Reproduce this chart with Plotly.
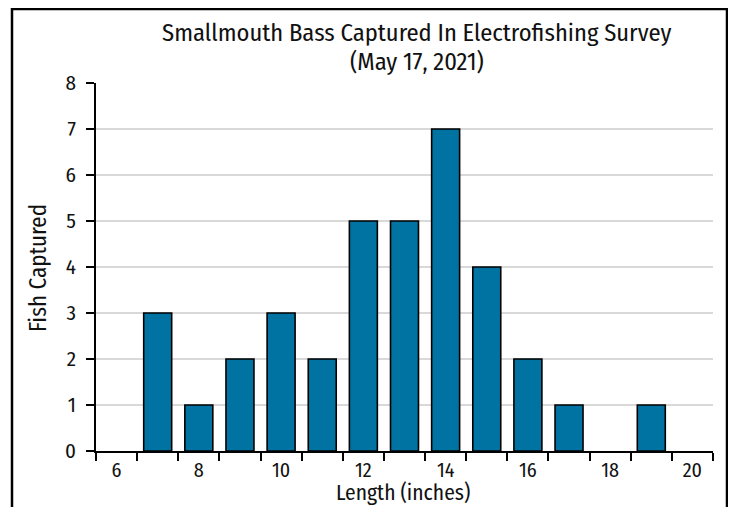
import plotly.graph_objects as go

lengths = [6, 7, 8, 9, 10, 11, 12, 13, 14, 15, 16, 17, 18, 19, 20]
counts = [0, 3, 1, 2, 3, 2, 5, 5, 7, 4, 2, 1, 0, 1, 0]
x_tick_labels = [6, 8, 10, 12, 14, 16, 18, 20]
y_ticks = [0, 1, 2, 3, 4, 5, 6, 7, 8]
title_lines = ["Smallmouth Bass Captured In Electrofishing Survey", "(May 17, 2021)"]

FONT = "Fira Sans Condensed, Liberation Sans Narrow, DejaVu Sans Condensed, sans-serif"

# page has an 8px body margin; figure occupies 720x499 inside the 736x515 window
OFF = 8
W, H = 720, 499
L, R, T, B = 88, 15, 75, 56
pw, ph = W - L - R, H - T - B

def px_to_paper_x(page_px):
    return (page_px - OFF - L) / pw

def px_to_paper_y(page_py):
    return (H - B - (page_py - OFF)) / ph

# no outline on empty (zero-count) bins
outline_widths = [1.6 if c > 0 else 0 for c in counts]

fig = go.Figure(go.Bar(
    x=lengths, y=counts, width=0.68,
    marker=dict(color="#0073A3", line=dict(color="black", width=outline_widths)),
))

annotations = [
    dict(text=title_lines[0], x=px_to_paper_x(416), y=px_to_paper_y(32),
         xref="paper", yref="paper", xanchor="center", yanchor="middle",
         showarrow=False, font=dict(size=24.5, family=FONT, color="#111111")),
    dict(text=title_lines[1], x=px_to_paper_x(417), y=px_to_paper_y(62),
         xref="paper", yref="paper", xanchor="center", yanchor="middle",
         showarrow=False, font=dict(size=24.5, family=FONT, color="#111111")),
    dict(text="Length (inches)", x=px_to_paper_x(403), y=px_to_paper_y(493),
         xref="paper", yref="paper", xanchor="center", yanchor="middle",
         showarrow=False, font=dict(size=21.5, family=FONT, color="#111111")),
    dict(text="Fish Captured", x=px_to_paper_x(38), y=px_to_paper_y(268),
         xref="paper", yref="paper", xanchor="center", yanchor="middle",
         textangle=-90,
         showarrow=False, font=dict(size=23, family=FONT, color="#111111")),
]

fig.update_layout(
    width=W, height=H,
    margin=dict(l=L, r=R, t=T, b=B),
    paper_bgcolor="white", plot_bgcolor="white",
    font=dict(family=FONT, color="#111111", size=21),
    showlegend=False,
    xaxis=dict(
        range=[5.5, 20.5], tickmode="array", tickvals=x_tick_labels,
        ticks="outside", ticklen=0.5, tickcolor="rgba(0,0,0,0)",
        showline=True, linecolor="black", linewidth=1.8,
        showgrid=False, zeroline=False, automargin=False,
        minor=dict(ticks="outside", ticklen=8, tickcolor="black", tickwidth=1.8,
                   tick0=5.5, dtick=1, showgrid=False),
        tickfont=dict(size=20),
    ),
    yaxis=dict(
        range=[0, 8], tickmode="array", tickvals=y_ticks,
        ticks="outside", ticklen=8, tickcolor="black", tickwidth=1.8,
        ticklabelstandoff=6,
        showline=True, linecolor="black", linewidth=1.8,
        showgrid=True, gridcolor="#d9d9d9", gridwidth=1.5,
        zeroline=False, automargin=False,
        tickfont=dict(size=21),
    ),
    annotations=annotations,
    shapes=[dict(
        type="rect", xref="paper", yref="paper",
        x0=px_to_paper_x(12), x1=px_to_paper_x(727),
        y0=px_to_paper_y(530), y1=px_to_paper_y(9),
        line=dict(color="black", width=2.5), fillcolor="rgba(0,0,0,0)", layer="below",
    )],
)

fig.write_html("out.html")
